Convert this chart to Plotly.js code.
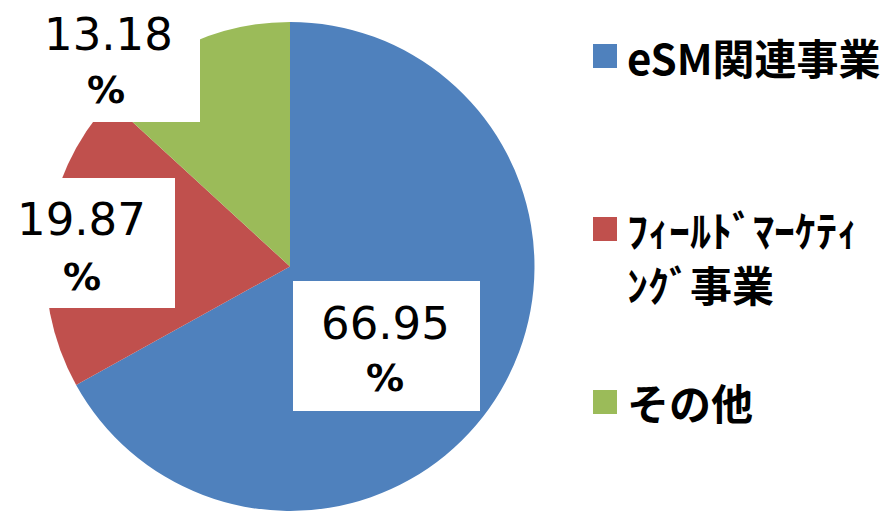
<!DOCTYPE html>
<html>
<head>
<meta charset="utf-8">
<script src="https://cdn.plot.ly/plotly-3.0.1.min.js"></script>
<style>
  html, body { margin: 0; padding: 0; background: #ffffff; }
  #chart { width: 891px; height: 511px; }
</style>
</head>
<body>
<div id="chart"></div>
<script>
// ---- data ----
const categories = ['eSM関連事業', 'ﾌｨｰﾙﾄﾞﾏｰｹﾃｨﾝｸﾞ事業', 'その他'];
const legendText = ['eSM関連事業', 'ﾌｨｰﾙﾄﾞﾏｰｹﾃｨ<br>ﾝｸﾞ事業', 'その他'];
const shares = [66.95, 19.87, 13.18];
const colors = ['#4F81BD', '#C0504D', '#9BBB59'];

// ---- layout helpers (pixel -> paper) ----
const W = 891, H = 511;
const X = px => px / W;
const Y = py => 1 - py / H;

// label boxes: [x0, y0, x1, y1] in px, number centre, percent centre
const labelBoxes = [
  { box: [293, 281, 480, 411], num: [385, 323], pct: [385, 378] },
  { box: [-5, 178, 175, 308], num: [81, 219], pct: [82, 277] },
  { box: [-5, -10, 200, 122], num: [108, 34], pct: [106, 90] }
];
// legend squares (px) and text line anchors
const legendItems = [
  { sq: [593, 44, 617, 68], x: 626, lineY: [56] },
  { sq: [593, 217, 617, 241], x: 626, lineY: [228, 283] },
  { sq: [593, 390, 617, 414], x: 626, lineY: [401] }
];

const trace = {
  type: 'pie',
  labels: categories,
  values: shares,
  sort: false,
  direction: 'clockwise',
  rotation: 0,
  textinfo: 'none',
  hoverinfo: 'label+percent',
  marker: { colors: colors, line: { width: 0 } },
  domain: { x: [X(45), X(535)], y: [0, 489 / H] },
  showlegend: false
};

const shapes = [];
const annotations = [];

shares.forEach((v, i) => {
  const lb = labelBoxes[i];
  shapes.push({
    type: 'rect', xref: 'paper', yref: 'paper', layer: 'above',
    x0: X(lb.box[0]), x1: X(lb.box[2]), y0: Y(lb.box[3]), y1: Y(lb.box[1]),
    fillcolor: '#ffffff', line: { width: 0 }
  });
  annotations.push({
    xref: 'paper', yref: 'paper', x: X(lb.num[0]), y: Y(lb.num[1]),
    xanchor: 'center', yanchor: 'middle', showarrow: false, borderpad: 0,
    text: v.toFixed(2),
    font: { family: 'DejaVu Sans', size: 45, color: '#000000' }
  });
  annotations.push({
    xref: 'paper', yref: 'paper', x: X(lb.pct[0]), y: Y(lb.pct[1]),
    xanchor: 'center', yanchor: 'middle', showarrow: false, borderpad: 0,
    text: '%',
    font: { family: 'DejaVu Sans', size: 38, weight: 'bold', color: '#000000' }
  });

  const li = legendItems[i];
  shapes.push({
    type: 'rect', xref: 'paper', yref: 'paper', layer: 'above',
    x0: X(li.sq[0]), x1: X(li.sq[2]), y0: Y(li.sq[3]), y1: Y(li.sq[1]),
    fillcolor: colors[i], line: { width: 0 }
  });
  legendText[i].split('<br>').forEach((line, j) => {
    annotations.push({
      xref: 'paper', yref: 'paper', x: X(li.x), y: Y(li.lineY[j]),
      xanchor: 'left', yanchor: 'middle', align: 'left', showarrow: false, borderpad: 0,
      text: line,
      font: { family: 'Noto Sans CJK JP', size: 42, weight: 'bold', color: '#000000' }
    });
  });
});

const layout = {
  width: W, height: H,
  margin: { l: 0, r: 0, t: 0, b: 0, pad: 0 },
  paper_bgcolor: '#ffffff',
  plot_bgcolor: '#ffffff',
  showlegend: false,
  shapes: shapes,
  annotations: annotations
};

Plotly.newPlot('chart', [trace], layout, { staticPlot: true, displayModeBar: false });
</script>
</body>
</html>
